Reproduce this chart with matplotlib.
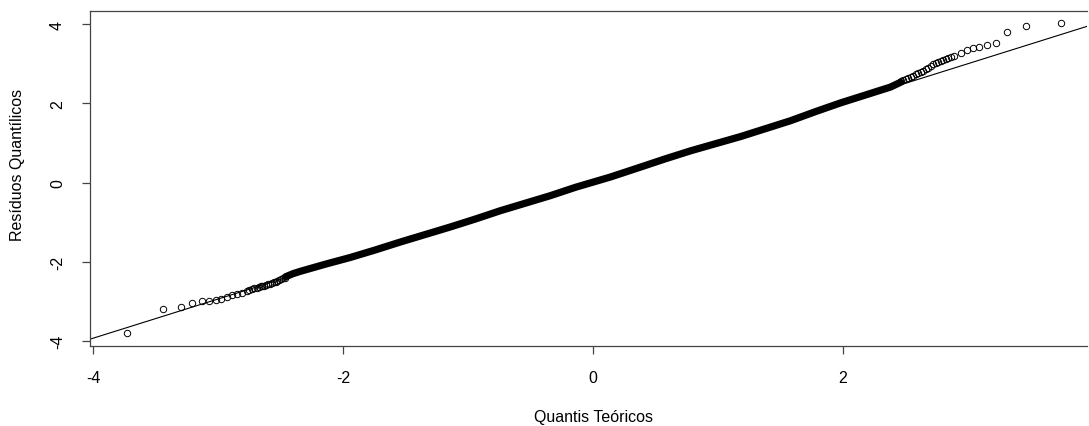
import matplotlib
matplotlib.use("Agg")
import matplotlib.pyplot as plt

plt.rcParams['font.family'] = ['Liberation Sans', 'DejaVu Sans']

# sparse lower tail (theoretical quantile, residual)
low_x = [-3.73, -3.44, -3.30, -3.21, -3.13, -3.07, -3.02, -2.98, -2.93, -2.89,
         -2.85, -2.81, -2.77, -2.75, -2.73, -2.71, -2.69, -2.67, -2.66, -2.645,
         -2.63, -2.615, -2.60, -2.585, -2.57, -2.555, -2.54, -2.525, -2.51,
         -2.495, -2.48, -2.465]
low_y = [-3.79, -3.18, -3.13, -3.05, -3.00, -2.98, -2.96, -2.93, -2.88, -2.84,
         -2.81, -2.78, -2.74, -2.71, -2.69, -2.67, -2.65, -2.63, -2.62, -2.61,
         -2.60, -2.585, -2.57, -2.555, -2.54, -2.52, -2.50, -2.48, -2.46,
         -2.44, -2.41, -2.40]

# dense central run of residuals
core_x = [-2.46, -2.40, -2.34, -2.14, -1.94, -1.74, -1.54, -1.34, -1.14, -0.94,
          -0.74, -0.54, -0.34, -0.14, 0.14, 0.38, 0.58, 0.78, 0.98, 1.18,
          1.38, 1.58, 1.78, 1.98, 2.18, 2.38, 2.46]
core_y = [-2.38, -2.30, -2.24, -2.06, -1.89, -1.70, -1.50, -1.31, -1.12, -0.92,
          -0.71, -0.52, -0.33, -0.12, 0.14, 0.39, 0.60, 0.80, 0.98, 1.16,
          1.36, 1.56, 1.79, 2.01, 2.21, 2.41, 2.53]

# sparse upper tail
up_x = [2.46, 2.48, 2.50, 2.52, 2.54, 2.56, 2.58, 2.60, 2.62, 2.64, 2.66,
        2.68, 2.70, 2.72, 2.74, 2.76, 2.78, 2.80, 2.82, 2.84, 2.86,
        2.89, 2.94, 2.99, 3.04, 3.09, 3.15, 3.22, 3.31, 3.46, 3.74]
up_y = [2.56, 2.59, 2.615, 2.64, 2.67, 2.70, 2.73, 2.76, 2.79, 2.82, 2.86,
        2.90, 2.94, 2.98, 3.02, 3.05, 3.08, 3.10, 3.12, 3.14, 3.16,
        3.20, 3.26, 3.34, 3.39, 3.43, 3.47, 3.51, 3.81, 3.96, 4.02]

# qqline
line_intercept = 0.03
line_slope = 0.99

x_ticks = [-4, -2, 0, 2]
y_ticks = [-4, -2, 0, 2, 4]

W, H = 1089, 427
fig = plt.figure(figsize=(W / 100, H / 100), dpi=100)
ax = fig.add_axes([90 / W, (H - 347) / H, (1087 - 90) / W, (347 - 12) / H])

circ = dict(marker='o', ms=4.6, mfc='none', mec='black', mew=0.7, ls='none')
ax.plot(low_x, low_y, **circ)
ax.plot(up_x, up_y, **circ)
ax.plot(core_x, core_y, color='black', lw=5.2, solid_capstyle='round',
        solid_joinstyle='round')
ax.axline((0, line_intercept), slope=line_slope, color='black', lw=0.8)

ax.set_xlim(-4.024, 3.952)
ax.set_ylim(-4.126, 4.33)
ax.set_xticks(x_ticks)
ax.set_yticks(y_ticks)
ax.set_xticklabels([str(v) for v in x_ticks])
ax.set_yticklabels([str(v) for v in y_ticks], rotation=90, va='center')

for side in ['left', 'top', 'bottom']:
    ax.spines[side].set_color('#444444')
    ax.spines[side].set_linewidth(0.9)
ax.spines['right'].set_visible(False)
ax.tick_params(axis='both', length=6, width=0.9, color='#444444',
               labelsize=11.5, labelcolor='black')
ax.tick_params(axis='x', pad=11)
ax.tick_params(axis='y', pad=12)

ax.set_xlabel('Quantis Teóricos', fontsize=11.5, va='center')
ax.set_ylabel('Resíduos Quantílicos', fontsize=11.5, va='center')
ax.xaxis.set_label_coords((594 - 90) / 997, (347 - 418) / 335)
ax.yaxis.set_label_coords((18 - 90) / 997, (347 - 165) / 335)

fig.savefig('out.png', dpi=100)
